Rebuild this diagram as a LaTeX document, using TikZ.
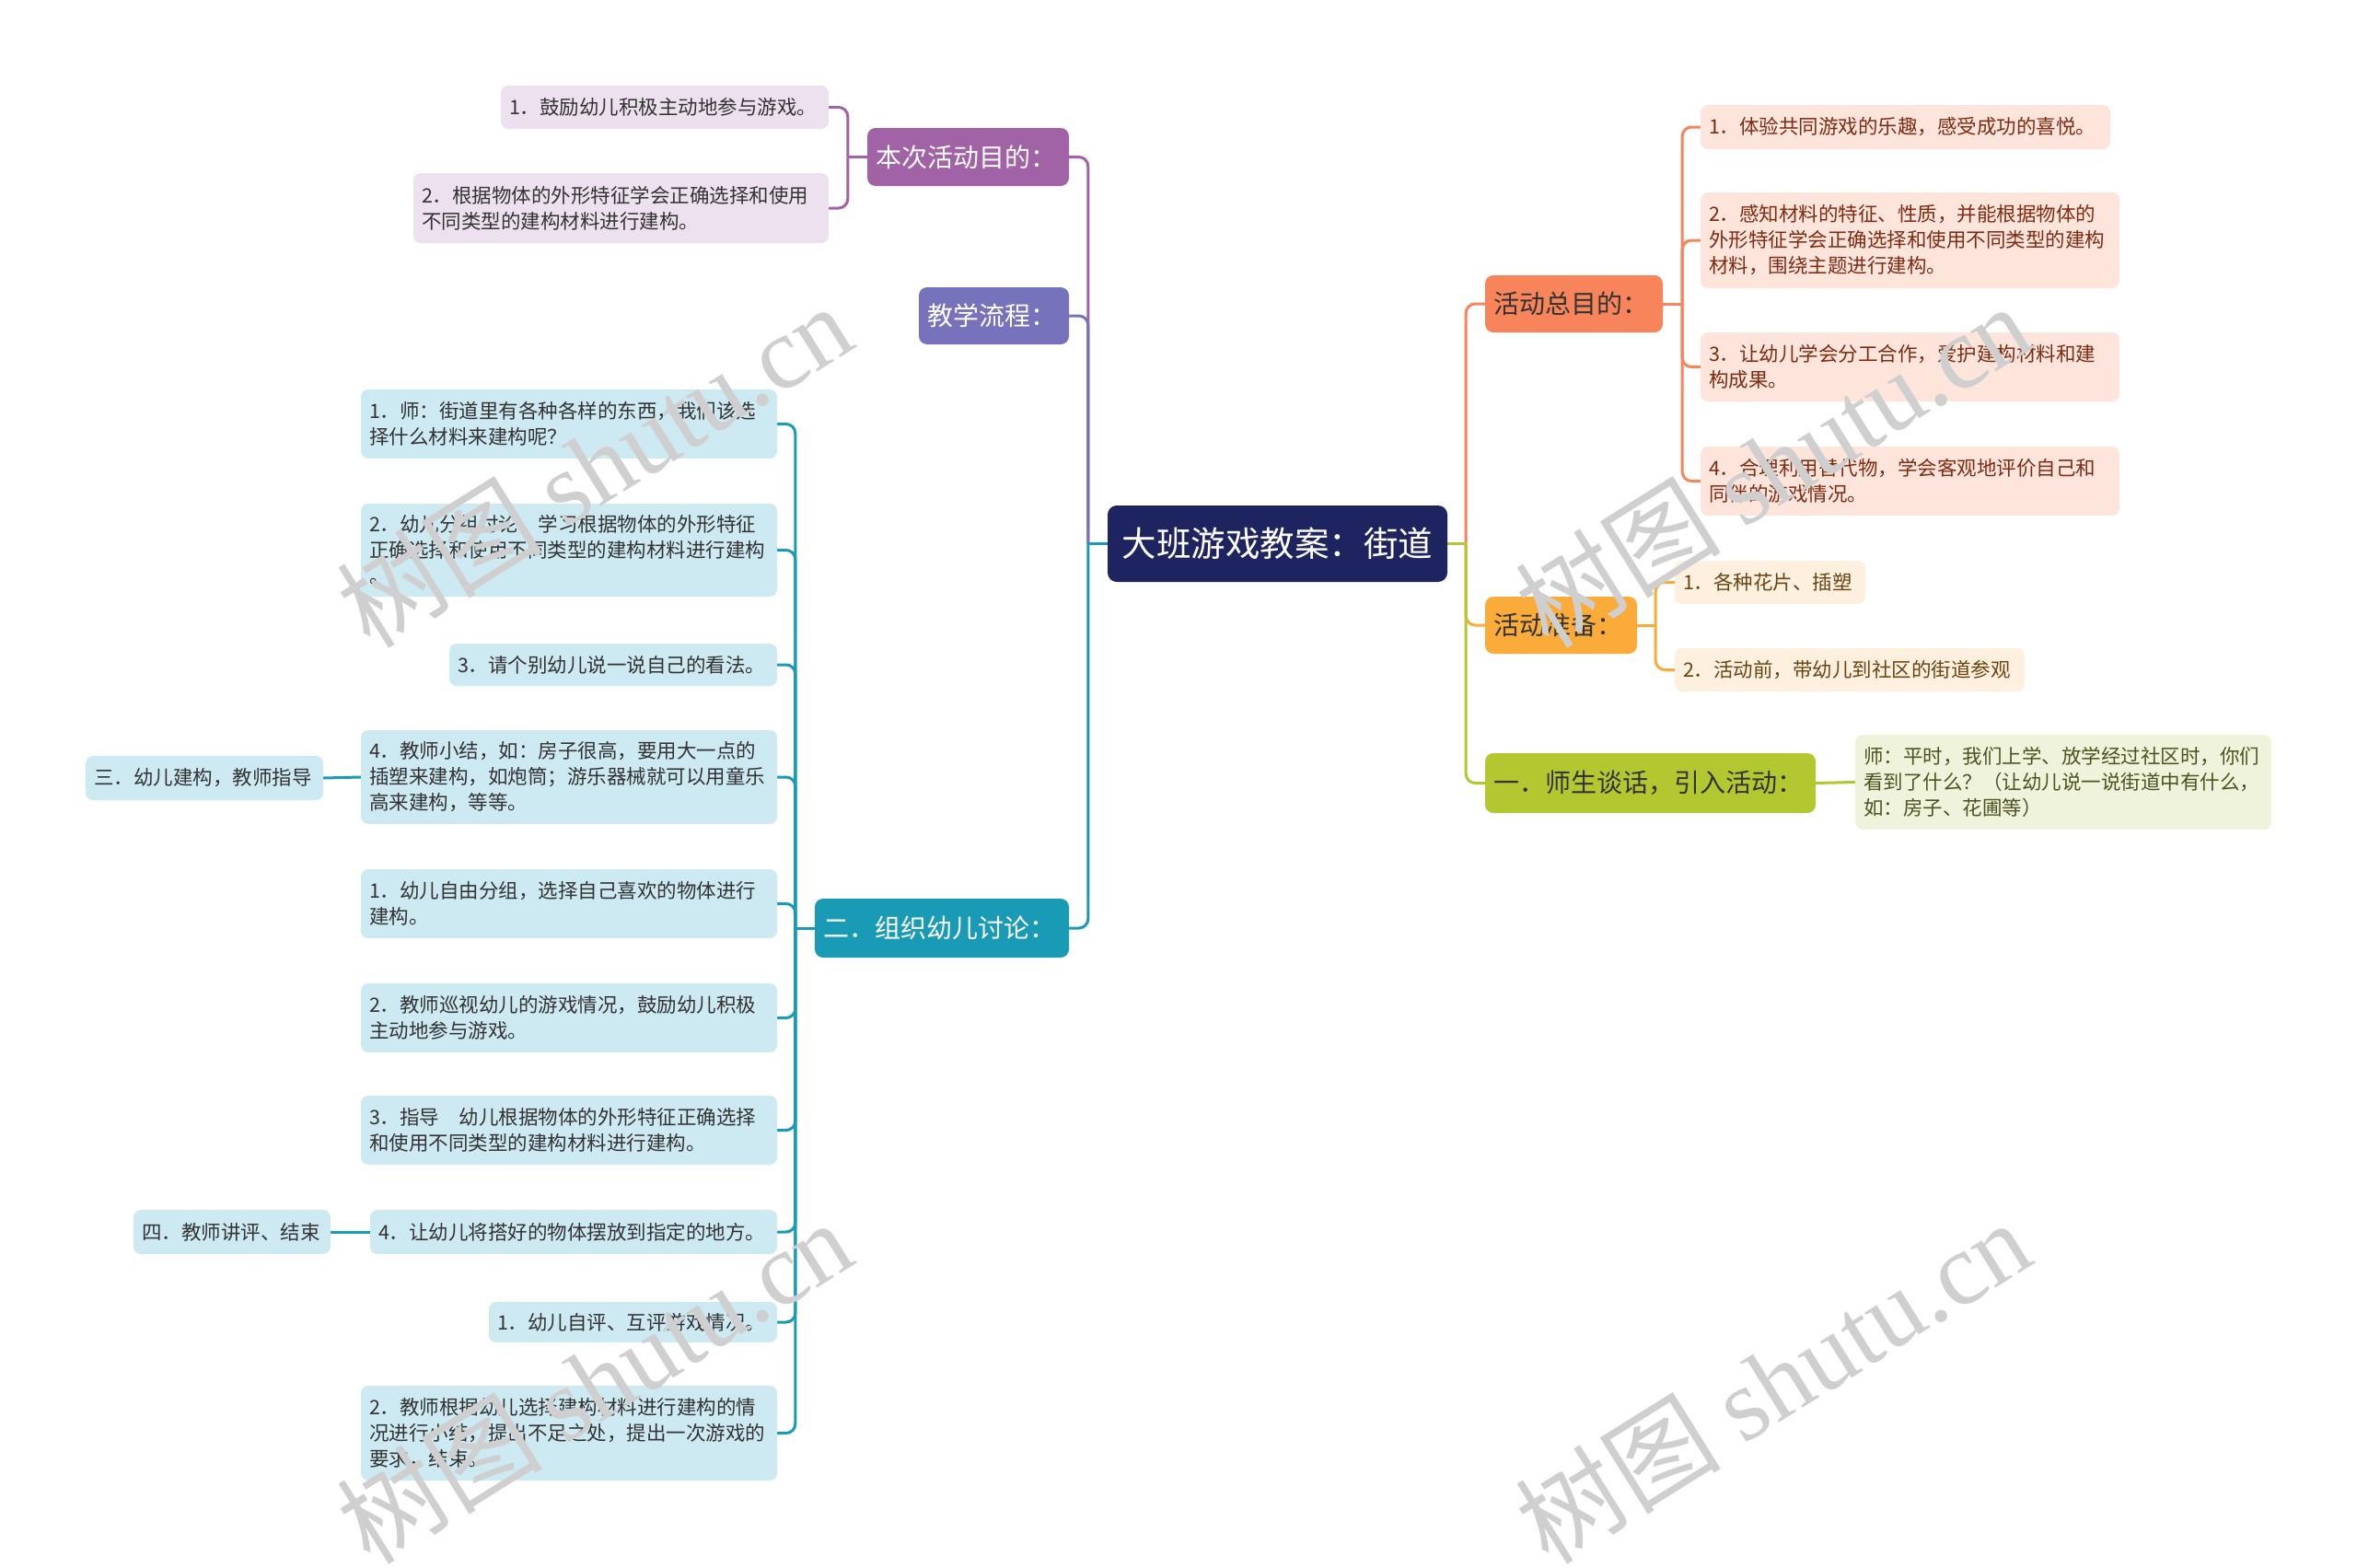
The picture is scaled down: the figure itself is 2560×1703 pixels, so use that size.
\documentclass[tikz,border=0pt]{standalone}
\usepackage{fontspec}
\setmainfont{Noto Sans CJK SC}
\newfontfamily\wmlat{Liberation Serif}
\usetikzlibrary{calc}
\pgfdeclarelayer{paper}
\pgfdeclarelayer{background}
\pgfdeclarelayer{foreground}
\pgfsetlayers{paper,background,main,foreground}

\definecolor{rootc}{HTML}{1E2460}
\definecolor{purp}{HTML}{A262A6}
\definecolor{purpL}{HTML}{EDE1EF}
\definecolor{vio}{HTML}{7672BB}
\definecolor{teal}{HTML}{1A9BB5}
\definecolor{tealL}{HTML}{CDE9F1}
\definecolor{orng}{HTML}{F7845A}
\definecolor{orngL}{HTML}{FDE5DC}
\definecolor{ambr}{HTML}{FAAB3A}
\definecolor{ambrL}{HTML}{FDF0DE}
\definecolor{lime}{HTML}{B3C731}
\definecolor{limeL}{HTML}{F0F3DB}
\definecolor{txt}{HTML}{333333}
\definecolor{otxt}{HTML}{7E2B12}
\definecolor{atxt}{HTML}{6A4513}
\definecolor{ltxt}{HTML}{4E5220}

\newcommand{\mmnode}[7]{%
  \pgfmathsetmacro{\mmcx}{(#2+#4)/2}%
  \pgfmathsetmacro{\mmcy}{(#3+#5)/2}%
  \pgfmathsetmacro{\mmww}{#4-#2}%
  \pgfmathsetmacro{\mmhh}{#5-#3}%
  \pgfmathsetmacro{\mmtw}{#4-#2-18}%
  \node[#6, minimum width=\mmww pt, minimum height=\mmhh pt, text width=\mmtw pt] (#1) at (\mmcx,\mmcy) {#7};%
}

\tikzset{
  leaf/.style={rounded corners=8pt, inner xsep=9pt, inner ysep=0pt, align=left,
    text=txt, font=\fontsize{21.5}{28}\selectfont},
  mainn/.style={rounded corners=9pt, inner xsep=9pt, inner ysep=0pt, align=left,
    font=\fontsize{28}{34}\selectfont},
  rootn/.style={rounded corners=10pt, inner xsep=9pt, inner ysep=0pt, align=center,
    fill=rootc, text=white, font=\fontsize{37.5}{44}\selectfont},
  conn/.style={line width=3pt, rounded corners=10pt},
  wm/.style={rotate=32, text=black!19, font=\fontsize{112}{112}\selectfont, inner sep=0pt}
}

\begin{document}
\begin{tikzpicture}[x=1pt,y=-1pt]
\begin{pgfonlayer}{paper}
\fill[white] (0,0) rectangle (2560,1703);
\end{pgfonlayer}
\useasboundingbox (0,0) rectangle (2560,1703);

% root
\mmnode{root}{1203}{549}{1572}{632}{rootn}{大班游戏教案：街道}

% left main branches
\mmnode{P}{942}{139}{1161}{202}{mainn, fill=purp, text=white}{本次活动目的：}
\mmnode{P1}{544}{93}{900}{140}{leaf, fill=purpL}{1．鼓励幼儿积极主动地参与游戏。}
\mmnode{P2}{449}{188}{900}{264}{leaf, fill=purpL}{2．根据物体的外形特征学会正确选择和使用\\不同类型的建构材料进行建构。}
\mmnode{J}{998}{312}{1161}{374}{mainn, fill=vio, text=white}{教学流程：}
\mmnode{T}{885}{976}{1161}{1040}{mainn, fill=teal, text=white}{二．组织幼儿讨论：}

\mmnode{T1}{392}{423}{844}{498}{leaf, fill=tealL}{1．师：街道里有各种各样的东西，我们该选\\择什么材料来建构呢？}
\mmnode{T2}{392}{547}{844}{648}{leaf, fill=tealL}{2．幼儿分组讨论，学习根据物体的外形特征\\正确选择和使用不同类型的建构材料进行建构\\。}
\mmnode{T3}{488}{699}{844}{745}{leaf, fill=tealL}{3．请个别幼儿说一说自己的看法。}
\mmnode{T4}{392}{793}{844}{895}{leaf, fill=tealL}{4．教师小结，如：房子很高，要用大一点的\\插塑来建构，如炮筒；游乐器械就可以用童乐\\高来建构，等等。}
\mmnode{T4a}{93}{821}{351}{869}{leaf, fill=tealL}{三．幼儿建构，教师指导}
\mmnode{T5}{392}{944}{844}{1019}{leaf, fill=tealL}{1．幼儿自由分组，选择自己喜欢的物体进行\\建构。}
\mmnode{T6}{392}{1068}{844}{1143}{leaf, fill=tealL}{2．教师巡视幼儿的游戏情况，鼓励幼儿积极\\主动地参与游戏。}
\mmnode{T7}{392}{1190}{844}{1265}{leaf, fill=tealL}{3．指导　幼儿根据物体的外形特征正确选择\\和使用不同类型的建构材料进行建构。}
\mmnode{T8}{402}{1314}{844}{1362}{leaf, fill=tealL}{4．让幼儿将搭好的物体摆放到指定的地方。}
\mmnode{T8a}{145}{1314}{359}{1362}{leaf, fill=tealL}{四．教师讲评、结束}
\mmnode{T9}{531}{1414}{844}{1458}{leaf, fill=tealL}{1．幼儿自评、互评游戏情况。}
\mmnode{T10}{392}{1505}{844}{1608}{leaf, fill=tealL}{2．教师根据幼儿选择建构材料进行建构的情\\况进行小结，提出不足之处，提出一次游戏的\\要求，结束。}

% right main branches
\mmnode{O}{1613}{299}{1806}{361}{mainn, fill=orng, text=txt}{活动总目的：}
\mmnode{O1}{1847}{114}{2292}{162}{leaf, fill=orngL, text=otxt}{1．体验共同游戏的乐趣，感受成功的喜悦。}
\mmnode{O2}{1847}{209}{2302}{313}{leaf, fill=orngL, text=otxt}{2．感知材料的特征、性质，并能根据物体的\\外形特征学会正确选择和使用不同类型的建构\\材料，围绕主题进行建构。}
\mmnode{O3}{1847}{361}{2302}{436}{leaf, fill=orngL, text=otxt}{3．让幼儿学会分工合作，爱护建构材料和建\\构成果。}
\mmnode{O4}{1847}{485}{2302}{560}{leaf, fill=orngL, text=otxt}{4．合理利用替代物，学会客观地评价自己和\\同伴的游戏情况。}

\mmnode{A}{1613}{648}{1778}{710}{mainn, fill=ambr, text=txt}{活动准备：}
\mmnode{A1}{1819}{609}{2026}{656}{leaf, fill=ambrL, text=atxt}{1．各种花片、插塑}
\mmnode{A2}{1819}{704}{2199}{751}{leaf, fill=ambrL, text=atxt}{2．活动前，带幼儿到社区的街道参观}

\mmnode{G}{1613}{818}{1972}{883}{mainn, fill=lime, text=txt}{一．师生谈话，引入活动：}
\mmnode{G1}{2015}{798}{2467}{901}{leaf, fill=limeL, text=ltxt}{师：平时，我们上学、放学经过社区时，你们\\看到了什么？（让幼儿说一说街道中有什么，\\如：房子、花圃等）}

% junctions
\coordinate (jL) at ($(root.west)+(-21,0)$);
\coordinate (jR) at ($(root.east)+(20,0)$);
\coordinate (jP) at ($(P.west)+(-21,0)$);
\coordinate (jT) at ($(T.west)+(-21,0)$);
\coordinate (jO) at ($(O.east)+(21,0)$);
\coordinate (jA) at ($(A.east)+(20,0)$);

\begin{pgfonlayer}{background}
  % left of root
  \draw[conn, purp] (jL) |- (P.east);
  \draw[conn, vio] (jL) |- (J.east);
  \draw[conn, teal] (jL) |- (T.east);
  \draw[conn, teal] (root.west) -- (jL);
  % purple children
  \draw[conn, purp] (P.west) -- (jP);
  \draw[conn, purp] (jP) |- (P1.east);
  \draw[conn, purp] (jP) |- (P2.east);
  % teal children
  \draw[conn, teal] (T.west) -- (jT);
  \foreach \c in {T1,T2,T3,T4,T5,T6,T7,T8,T9,T10}
    \draw[conn, teal] (jT) |- (\c.east);
  \draw[conn, teal] (T4.west) -- (T4a.east);
  \draw[conn, teal] (T8.west) -- (T8a.east);
  % right of root
  \draw[conn, orng] (jR) |- (O.west);
  \draw[conn, ambr] (jR) |- (A.west);
  \draw[conn, lime] (jR) |- (G.west);
  \draw[conn, lime] (root.east) -- (jR);
  % orange children
  \draw[conn, orng] (O.east) -- (jO);
  \foreach \c in {O1,O2,O3,O4}
    \draw[conn, orng] (jO) |- (\c.west);
  % amber children
  \draw[conn, ambr] (A.east) -- (jA);
  \draw[conn, ambr] (jA) |- (A1.west);
  \draw[conn, ambr] (jA) |- (A2.west);
  % lime child
  \draw[conn, lime] (G.east) -- (G1.west);
\end{pgfonlayer}

% watermarks
\begin{pgfonlayer}{foreground}
  \node[wm] (wm1) at (645,505) {树图 {\wmlat shutu.cn}};
  \node[wm] (wm2) at (1925,505) {树图 {\wmlat shutu.cn}};
  \node[wm] (wm3) at (645,1500) {树图 {\wmlat shutu.cn}};
  \node[wm] (wm4) at (1925,1500) {树图 {\wmlat shutu.cn}};
\end{pgfonlayer}
\end{tikzpicture}
\end{document}
